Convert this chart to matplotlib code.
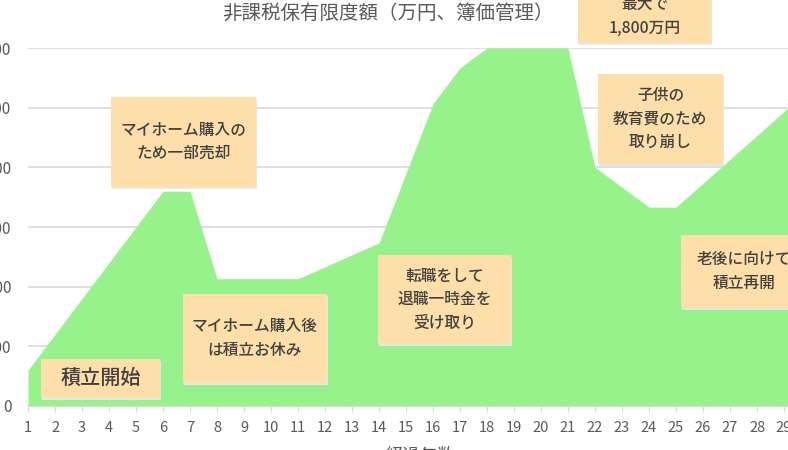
import matplotlib
matplotlib.use('Agg')
import matplotlib.pyplot as plt
from matplotlib.patches import Rectangle

plt.rcParams['font.family'] = ['Noto Sans CJK JP', 'DejaVu Sans']

years = list(range(1, 31))
limit = [180, 360, 540, 720, 900, 1080, 1080, 640, 640, 640,
         640, 700, 760, 820, 1170, 1520, 1700, 1800, 1800, 1800,
         1800, 1200, 1100, 1000, 1000, 1120, 1240, 1360, 1480, 1600]

title = '非課税保有限度額（万円、簿価管理）'
xlabel = '経過年数'

# notes: text, (x0, x1, y0, y1) of the box in data units
notes = [
    ('積立開始', (1.48, 5.89, 40, 236)),
    ('マイホーム購入の\nため一部売却', (4.07, 9.44, 1101, 1554)),
    ('マイホーム購入後\nは積立お休み', (6.74, 12.07, 116, 563)),
    ('転職をして\n退職一時金を\n受け取り', (13.96, 18.89, 312, 759)),
    ('最大で\n1,800万円', (21.37, 26.30, 1825, 2350)),
    ('子供の\n教育費のため\n取り崩し', (22.11, 26.74, 1217, 1669)),
    ('老後に向けて\n積立再開', (25.19, 29.85, 493, 860)),
]

fig = plt.figure(figsize=(7.88, 4.5), dpi=100)
ax = fig.add_axes([28/788, 44/450, 783/788, 358/450])

ax.fill_between(years, limit, 0, color='#98f28c', lw=0, zorder=2)
ax.set_xlim(1, 30)
ax.set_ylim(0, 1800)
ax.set_yticks(range(0, 1801, 300))
ax.set_yticklabels([f'{v:,}' for v in range(0, 1801, 300)])
ax.set_xticks(years)
ax.grid(axis='y', color='#d9d9d9', lw=1.2, zorder=0)
for s in ['top', 'right', 'left']:
    ax.spines[s].set_visible(False)
ax.spines['bottom'].set_color('#d9d9d9')
ax.tick_params(axis='y', length=0, pad=12, labelsize=11, labelcolor='#595959')
ax.tick_params(axis='x', length=4, color='#d9d9d9', pad=7, labelsize=10.5,
               labelcolor='#595959')

for i, (txt, (x0, x1, y0, y1)) in enumerate(notes):
    ax.add_patch(Rectangle((x0 + 0.04, y0 - 12), x1 - x0, y1 - y0,
                           facecolor='#e6e6e6', lw=0, zorder=3, clip_on=False))
    ax.add_patch(Rectangle((x0, y0), x1 - x0, y1 - y0,
                           facecolor='#fedfa9', lw=0, zorder=4, clip_on=False))
    fs = 14.5 if i == 0 else 11.3
    ty = (y0 + y1) / 2
    if txt.startswith('最大で'):
        ty = 1960
    ax.text((x0 + x1) / 2, ty, txt, ha='center', va='center', fontsize=fs,
            fontweight='medium', color='#404040', linespacing=1.5,
            zorder=5, clip_on=False)

fig.text(388/788, 1 - 13/450, title, ha='center', va='center',
         fontsize=14, color='#595959')
fig.text(420/788, 1 - 446/450, xlabel, ha='center', va='top',
         fontsize=12.5, color='#595959')

fig.savefig('out.png', dpi=100)
